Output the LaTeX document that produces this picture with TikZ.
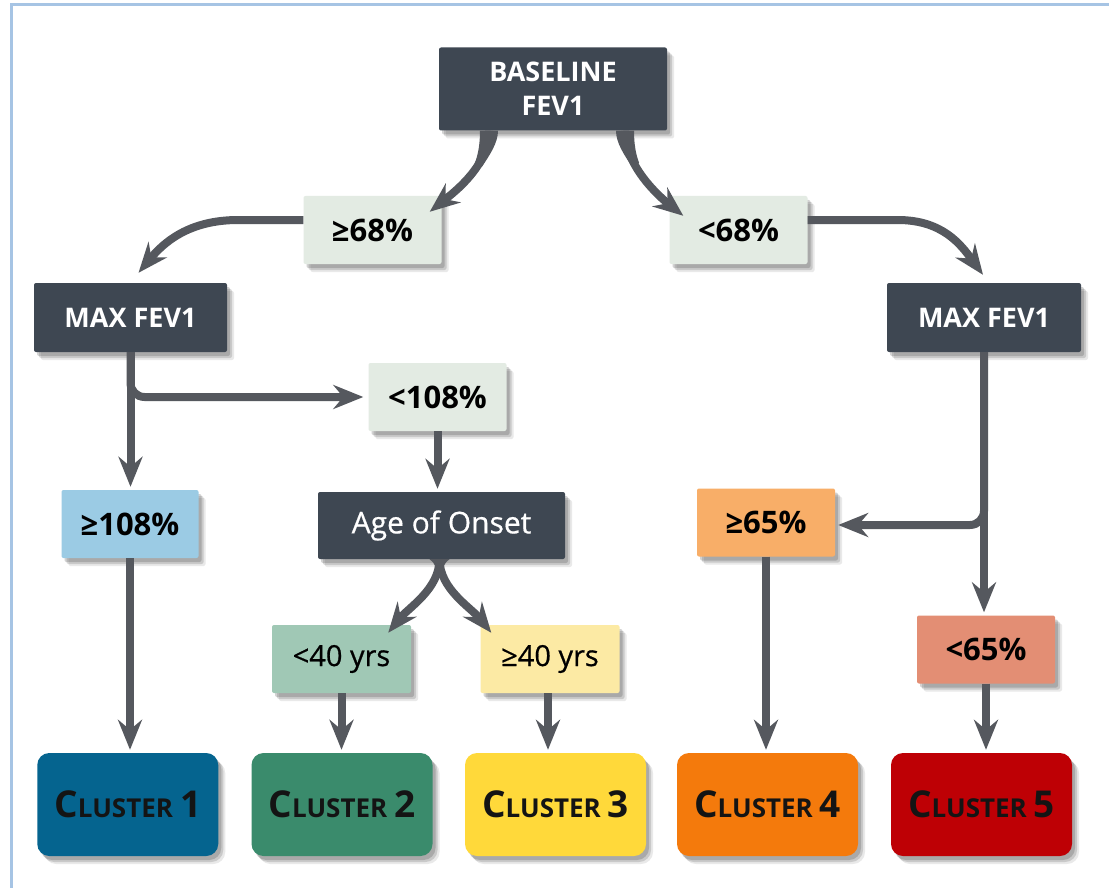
\documentclass[tikz,border=0pt]{standalone}
\usepackage{fontspec}
\setmainfont{Open Sans}
\usetikzlibrary{arrows.meta,shadows,calc}
\definecolor{framec}{HTML}{A6C4E4}
\definecolor{darkbox}{HTML}{3E4752}
\definecolor{arrowc}{HTML}{55585E}
\definecolor{palec}{HTML}{E3EBE3}
\definecolor{bluec}{HTML}{9BCBE4}
\definecolor{orlight}{HTML}{F8AE68}
\definecolor{greenlight}{HTML}{A0C8B5}
\definecolor{yellight}{HTML}{FCEAA4}
\definecolor{redlight}{HTML}{E38E74}
\definecolor{cone}{HTML}{05648F}
\definecolor{ctwo}{HTML}{3A8B6C}
\definecolor{cthree}{HTML}{FFD93A}
\definecolor{cfour}{HTML}{F47A0C}
\definecolor{cfive}{HTML}{BE0005}
\newcommand{\clus}[1]{{\fontsize{37}{37}\selectfont C}{\fontsize{26}{26}\selectfont LUSTER}\hspace{7pt}{\fontsize{37}{37}\selectfont #1}}
\newcommand{\semib}{\addfontfeature{FakeBold=0.6}}
\begin{document}
\begin{tikzpicture}[x=1pt,y=-1pt,
  box/.style={rectangle, rounded corners=2pt, inner sep=0pt,
    drop shadow={shadow xshift=3pt, shadow yshift=-4pt, opacity=0.25, fill=black!70},
    drop shadow={shadow xshift=5pt, shadow yshift=-6pt, opacity=0.2, fill=black!70},
    drop shadow={shadow xshift=7pt, shadow yshift=-8pt, opacity=0.12, fill=black!70}},
  darkn/.style={box, fill=darkbox, text=white, align=center,
    font=\bfseries\fontsize{27}{34}\selectfont},
  lab/.style={box, minimum width=138pt, minimum height=68pt,
    font=\bfseries\fontsize{31}{33}\selectfont},
  labm/.style={box, minimum width=139pt, minimum height=68pt,
    font=\fontsize{29}{32}\selectfont\semib},
  clusterbox/.style={box, rounded corners=12pt, minimum width=181pt, minimum height=103pt,
    font=\bfseries, text=black!92},
  arr/.style={draw=arrowc, line width=8pt, -{Stealth[length=30pt,width=24pt,inset=10pt]}},
  arrv/.style={arr, shorten >=3pt},
]
\useasboundingbox (0,0) rectangle (1109,888);
\fill[white] (0,0) rectangle (1109,888);
\draw[framec, line width=3pt] (11.5,888) -- (11.5,5) -- (1109,5);

% nodes
\node[darkn, minimum width=228pt, minimum height=83pt] (base) at (553,89) {BASELINE\\FEV1};
\node[lab, fill=palec] (ge68) at (372.5,230) {≥68\%};
\node[lab, fill=palec] (lt68) at (738.5,230) {<68\%};
\node[darkn, minimum width=193pt, minimum height=69pt] (maxL) at (130.5,317.5) {MAX FEV1};
\node[darkn, minimum width=194pt, minimum height=69pt] (maxR) at (984,317.5) {MAX FEV1};
\node[lab, fill=palec] (lt108) at (437.5,397) {<108\%};
\node[lab, fill=bluec, minimum width=137pt] (ge108) at (130,524) {≥108\%};
\node[box, fill=darkbox, text=white, minimum width=247pt, minimum height=67pt,
  font=\fontsize{30}{33}\selectfont\semib] (age) at (441.5,525.5) {Age of Onset};
\node[lab, fill=orlight] (ge65) at (766,522.5) {≥65\%};
\node[labm, fill=greenlight] (lt40) at (341.5,659) {<40 yrs};
\node[labm, fill=yellight] (ge40) at (550,659) {≥40 yrs};
\node[lab, fill=redlight] (lt65) at (986,649.5) {<65\%};
\node[clusterbox, fill=cone] (c1) at (127.75,804.5) {\clus{1}};
\node[clusterbox, fill=ctwo] (c2) at (342,804.5) {\clus{2}};
\node[clusterbox, fill=cthree] (c3) at (555.5,804.5) {\clus{3}};
\node[clusterbox, fill=cfour] (c4) at (767.5,804.5) {\clus{4}};
\node[clusterbox, fill=cfive] (c5) at (981.5,804.5) {\clus{5}};

% tapered roots of the curved connectors
\fill[arrowc] ($(base.south)+(-73,0)$) .. controls ($(base.south)+(-73,14)$) and ($(base.south)+(-75,24)$) .. ($(base.south)+(-78.1,32.2)$)
  -- ($(base.south)+(-71.3,36.4)$) .. controls ($(base.south)+(-63,24)$) and ($(base.south)+(-55,12)$) .. ($(base.south)+(-55,0)$) -- cycle;
\fill[arrowc] ($(base.south)+(81,0)$) .. controls ($(base.south)+(81,14)$) and ($(base.south)+(83,24)$) .. ($(base.south)+(86.1,32.2)$)
  -- ($(base.south)+(79.3,36.4)$) .. controls ($(base.south)+(71,24)$) and ($(base.south)+(63,12)$) .. ($(base.south)+(63,0)$) -- cycle;
\fill[arrowc] ($(age.south)+(-12,0)$) .. controls ($(age.south)+(-6,5)$) .. ($(age.south)+(-6,18)$)
  -- ($(age.south)+(2,18)$) .. controls ($(age.south)+(2,5)$) .. ($(age.south)+(8,0)$) -- cycle;

% connectors
\draw[arr] ($(base.south)+(-64,0)$) .. controls +(0,35) and +(25,-20) .. ($(ge68.north east)+(-12,16)$);
\draw[arr] ($(base.south)+(72,0)$) .. controls +(0,35) and +(-25,-20) .. ($(lt68.north west)+(14,20)$);
\draw[arr] ($(ge68.west)+(0,-10)$) -- ++(-65,0) .. controls +(-50,0) and +(25,-30) .. ($(maxL.north)+(8,-10)$);
\draw[arr] ($(lt68.east)+(0,-10)$) -- ++(90,0) .. controls +(45,0) and +(-22,-30) .. ($(maxR.north)+(-1,-8)$);
\draw[arrv] (maxL.south) -- (maxL.south |- ge108.north);
\draw[arr, rounded corners=14pt, shorten >=5pt] (maxL.south) |- (lt108.west);
\draw[arrv] (lt108.south) -- (lt108.south |- age.north);
\draw[arrv] (ge108.south) -- (ge108.south |- c1.north);
\draw[arr] ($(age.south)+(-2,0)$) .. controls +(0,30) and +(20,-25) .. ($(lt40.north east)+(-23,8)$);
\draw[arr] ($(age.south)+(-2,0)$) .. controls +(0,30) and +(-20,-25) .. ($(ge40.north west)+(11,8)$);
\draw[arrv] (lt40.south) -- (lt40.south |- c2.north);
\draw[arrv] ($(ge40.south)+(-2,0)$) -- ($(ge40.south |- c3.north)+(-2,0)$);
\draw[arrv] (maxR.south) -- (maxR.south |- lt65.north);
\draw[arr, rounded corners=14pt, shorten >=3pt] (maxR.south) |- ($(ge65.east)+(0,2.5)$);
\draw[arrv] (ge65.south) -- (ge65.south |- c4.north);
\draw[arrv] (lt65.south) -- (lt65.south |- c5.north);
\end{tikzpicture}
\end{document}
